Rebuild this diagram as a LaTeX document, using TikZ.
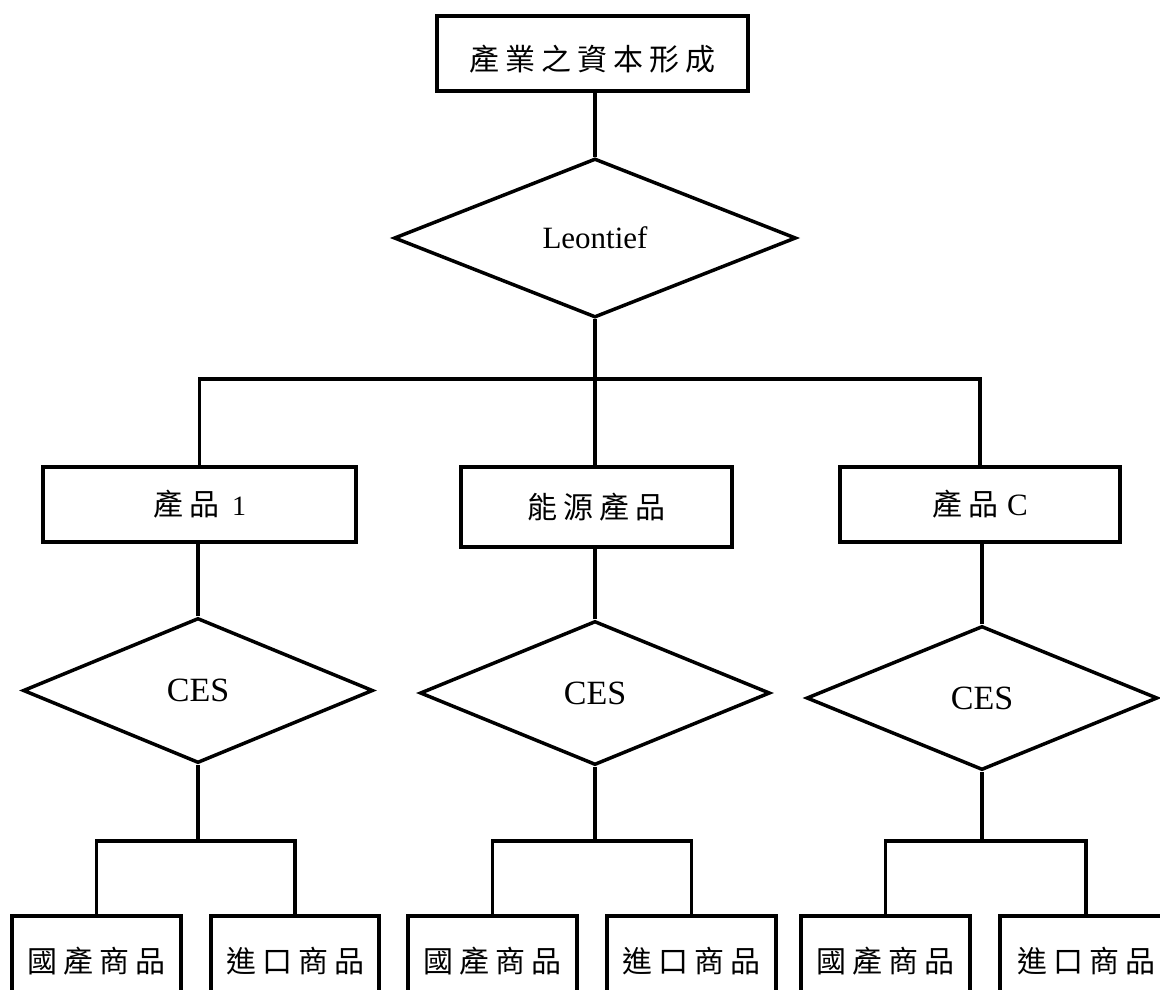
\documentclass[tikz,border=0pt]{standalone}
\usepackage{fontspec}
\setmainfont{Liberation Serif}
\newfontfamily\cjk{Noto Sans CJK TC}
\usetikzlibrary{shapes.geometric}
\newcommand{\g}{\hspace{6pt}}
\tikzset{
  conn/.style={line width=3.5pt},
  rbox/.style={draw, line width=3.5pt, rectangle, inner sep=0pt, font=\fontsize{30}{34}\selectfont},
  dia/.style={draw, line width=3.5pt, diamond, inner sep=0pt, font=\fontsize{34}{38}\selectfont},
}
\begin{document}
\begin{tikzpicture}[x=1pt,y=-1pt]
\useasboundingbox (0,0) rectangle (1160,989);
\clip (0,0) rectangle (1160,989);
% top
\node[rbox, minimum width=311pt, minimum height=75pt] (top) at (592.5,53.5) {\raisebox{-17pt}[0pt][0pt]{\cjk 產\g 業\g 之\g 資\g 本\g 形\g 成}};
\node[dia, minimum width=402pt, minimum height=159pt, font=\fontsize{31}{36}\selectfont] (leon) at (595,238) {Leontief};
\coordinate (bar) at (595,379);
% products
\node[rbox, minimum width=313pt, minimum height=75pt] (p1) at (199.5,504.5) {{\cjk 產\g 品}\hspace{13pt}{\fontsize{28}{32}\selectfont 1}};
\node[rbox, minimum width=271pt, minimum height=80pt] (pe) at (596.5,507) {\cjk 能\g 源\g 產\g 品};
\node[rbox, minimum width=280pt, minimum height=75pt] (pc) at (980,504.5) {{\cjk 產\g 品}\hspace{9pt}{\fontsize{31}{34}\selectfont C}};
% CES
\node[dia, minimum width=350pt, minimum height=145pt] (c1) at (198,690.5) {CES};
\node[dia, minimum width=350pt, minimum height=144pt] (ce) at (595,693) {CES};
\node[dia, minimum width=351pt, minimum height=144pt] (cc) at (982,698) {CES};
\coordinate (s1) at (198,841);
\coordinate (s2) at (595,841);
\coordinate (s3) at (982,841);
% bottom
\node[rbox, minimum width=169pt, minimum height=90pt] (d1) at (96.5,961) {\cjk 國\g 產\g 商\g 品};
\node[rbox, minimum width=168pt, minimum height=90pt] (i1) at (295,961) {\cjk 進\g 口\g 商\g 品};
\node[rbox, minimum width=169pt, minimum height=90pt] (d2) at (492.5,961) {\cjk 國\g 產\g 商\g 品};
\node[rbox, minimum width=169pt, minimum height=90pt] (i2) at (691.5,961) {\cjk 進\g 口\g 商\g 品};
\node[rbox, minimum width=169pt, minimum height=90pt] (d3) at (885.5,961) {\cjk 國\g 產\g 商\g 品};
\node[rbox, minimum width=172pt, minimum height=90pt] (i3) at (1086,961) {\cjk 進\g 口\g 商\g 品};
% connectors
\draw[conn] (leon.north) -- (leon.north |- top.south);
\draw[conn] (leon.south) -- (leon.south |- pe.north);
\draw[conn] (p1.north) -- (p1.north |- bar) -- (pc.north |- bar) -- (pc.north);
\draw[conn] (c1.north) -- (c1.north |- p1.south);
\draw[conn] (ce.north) -- (ce.north |- pe.south);
\draw[conn] (cc.north) -- (cc.north |- pc.south);
\draw[conn] (c1.south) -- (s1);
\draw[conn] (ce.south) -- (s2);
\draw[conn] (cc.south) -- (s3);
\draw[conn] (d1.north) -- (d1.north |- s1) -- (i1.north |- s1) -- (i1.north);
\draw[conn] (d2.north) -- (d2.north |- s2) -- (i2.north |- s2) -- (i2.north);
\draw[conn] (d3.north) -- (d3.north |- s3) -- (i3.north |- s3) -- (i3.north);
\end{tikzpicture}
\end{document}
